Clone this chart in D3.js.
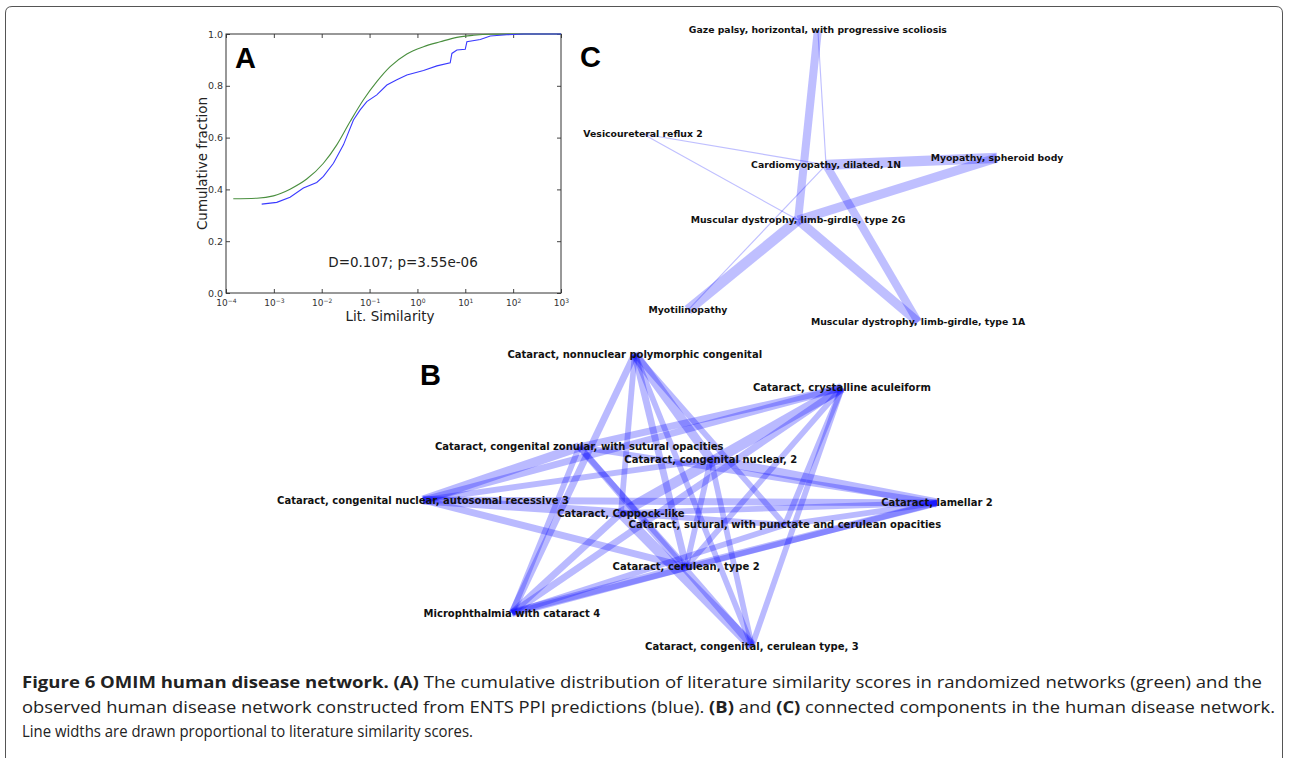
<!DOCTYPE html>
<html><head><meta charset="utf-8">
<script src="https://cdn.jsdelivr.net/npm/d3@7"></script>
<style>body{margin:0;background:#fff}svg{display:block}</style>
</head><body>
<svg id="fig" width="1289" height="758"></svg>
<script>
// ---------- Panel A data: cumulative fraction vs literature similarity ----------
const randomSim = [1.42e-4, 4.4e-4, 9.8e-4, 2.18e-3, 4.86e-3, 0.01086, 0.02065, 0.03926, 0.0745, 0.1416, 0.2692, 0.601, 1.34, 2.99, 6.68, 14.9, 33.3, 165.6, 1000];
const randomCum = [0.364, 0.366, 0.375, 0.401, 0.440, 0.501, 0.572, 0.662, 0.746, 0.816, 0.874, 0.923, 0.951, 0.970, 0.987, 0.995, 0.999, 1.0, 1.0];
const observedSim = [5.57e-4, 1.15e-3, 2.18e-3, 4.14e-3, 7.87e-3, 0.01086, 0.01758, 0.02844, 0.04603, 0.06353, 0.0875, 0.1416, 0.2296, 0.3715, 0.601, 1.34, 2.55, 4.84, 5.25, 6.68, 9.98, 10.8, 20.6, 33.3, 74.1, 165.6, 1000];
const observedCum = [0.343, 0.350, 0.370, 0.405, 0.427, 0.450, 0.501, 0.572, 0.668, 0.707, 0.739, 0.765, 0.803, 0.823, 0.842, 0.859, 0.877, 0.889, 0.925, 0.938, 0.941, 0.970, 0.979, 0.992, 0.997, 1.0, 1.0];
const yTickValues = [0, 0.2, 0.4, 0.6, 0.8, 1.0];
const xTickExponents = [-4, -3, -2, -1, 0, 1, 2, 3];
const statLabel = "D=0.107; p=3.55e-06";

// ---------- Panel B network ----------
const bNames = [
  "Cataract, nonnuclear polymorphic congenital",
  "Cataract, crystalline aculeiform",
  "Cataract, congenital zonular, with sutural opacities",
  "Cataract, congenital nuclear, 2",
  "Cataract, congenital nuclear, autosomal recessive 3",
  "Cataract, lamellar 2",
  "Cataract, Coppock-like",
  "Cataract, sutural, with punctate and cerulean opacities",
  "Cataract, cerulean, type 2",
  "Microphthalmia with cataract 4",
  "Cataract, congenital, cerulean type, 3"
];
const bLayoutX = [0.412, 0.815, 0.304, 0.560, 0.000, 1.000, 0.385, 0.704, 0.512, 0.173, 0.640];
const bLayoutY = [0.000, 0.116, 0.318, 0.361, 0.500, 0.510, 0.545, 0.585, 0.729, 0.887, 1.000];
// [source, target, literature similarity]
const bEdges = [
  [0, 9, 6], [0, 6, 5], [0, 8, 6], [0, 3, 8], [0, 10, 5], [0, 7, 5],
  [1, 2, 6], [1, 4, 6], [1, 6, 9], [1, 9, 6], [1, 7, 5], [1, 10, 5], [1, 8, 5],
  [4, 2, 8], [4, 6, 8], [4, 5, 6], [4, 8, 6], [4, 3, 5],
  [5, 3, 8], [5, 6, 5], [5, 7, 5], [5, 8, 6], [5, 9, 5], [5, 2, 5],
  [10, 6, 9], [10, 3, 5], [10, 2, 6],
  [9, 6, 6], [9, 8, 7], [9, 7, 5], [9, 2, 5],
  [2, 8, 5], [6, 7, 5], [3, 8, 5]
];

// ---------- Panel C network ----------
const cNames = [
  "Gaze palsy, horizontal, with progressive scoliosis",
  "Vesicoureteral reflux 2",
  "Cardiomyopathy, dilated, 1N",
  "Myopathy, spheroid body",
  "Muscular dystrophy, limb-girdle, type 2G",
  "Myotilinopathy",
  "Muscular dystrophy, limb-girdle, type 1A"
];
const cLayoutX = [0.494, 0.000, 0.517, 1.000, 0.438, 0.127, 0.777];
const cLayoutY = [0.000, 0.356, 0.462, 0.438, 0.651, 0.959, 1.000];
const cEdges = [
  [0, 4, 7], [0, 2, 1], [2, 3, 9], [4, 3, 8], [2, 6, 7], [4, 6, 8],
  [4, 5, 9], [2, 5, 1], [1, 2, 1], [1, 4, 1]
];

const panelLetters = ["A", "B", "C"];
const captionLines = [
  [["Figure 6 OMIM human disease network.", true], [" ", false], ["(A)", true], [" The cumulative distribution of literature similarity scores in randomized networks (green) and the", false]],
  [["observed human disease network constructed from ENTS PPI predictions (blue). ", false], ["(B)", true], [" and ", false], ["(C)", true], [" connected components in the human disease network.", false]],
  [["Line widths are drawn proportional to literature similarity scores.", false]]
];

// ================= drawing =================
(function draw() {
const svg = d3.select("#fig");

// outer frame
svg.append("path")
  .attr("d", "M5.5,760 L5.5,13 Q5.5,6.5 12,6.5 L1276,6.5 Q1282.5,6.5 1282.5,13 L1282.5,760")
  .attr("fill", "none").attr("stroke", "#555").attr("stroke-width", 1);

// ---- Panel A ----
const ax = d3.scaleLog().domain([1e-4, 1e3]).range([226, 561]);
const ay = d3.scaleLinear().domain([0, 1]).range([293, 34]);
const gA = svg.append("g").attr("font-family", "DejaVu Sans, sans-serif").attr("fill", "#222");

const tickColor = "#444";
const axLeft = gA.append("g").attr("transform", `translate(${ax.range()[0]},0)`)
  .call(d3.axisLeft(ay).tickValues(yTickValues).tickFormat(d3.format(".1f")).tickSizeInner(-4).tickSizeOuter(0).tickPadding(3));
const axRight = gA.append("g").attr("transform", `translate(${ax.range()[1]},0)`)
  .call(d3.axisRight(ay).tickValues(yTickValues).tickFormat(() => "").tickSizeInner(-4).tickSizeOuter(0));
const xTicks = xTickExponents.map(e => Math.pow(10, e));
const axBottom = gA.append("g").attr("transform", `translate(0,${ay.range()[0]})`)
  .call(d3.axisBottom(ax).tickValues(xTicks).tickFormat(() => "").tickSizeInner(-4).tickSizeOuter(0).tickPadding(3));
const axTop = gA.append("g").attr("transform", `translate(0,${ay.range()[1]})`)
  .call(d3.axisTop(ax).tickValues(xTicks).tickFormat(() => "").tickSizeInner(-4).tickSizeOuter(0));
[axLeft, axRight, axBottom, axTop].forEach(g => {
  g.select(".domain").remove();
  g.selectAll(".tick line").attr("stroke", tickColor);
});
axLeft.selectAll("text").attr("font-size", 9.5).attr("fill", "#333").attr("font-family", "DejaVu Sans, sans-serif");
axBottom.selectAll(".tick text").each(function(d) {
  const t = d3.select(this).text(null).attr("font-size", 9).attr("fill", "#333")
    .attr("font-family", "DejaVu Sans, sans-serif").attr("dy", "1.15em");
  t.append("tspan").text("10");
  t.append("tspan").text(String(Math.round(Math.log10(d))).replace("-", "\u2212"))
    .attr("font-size", 6).attr("dy", "-0.6em");
});

gA.append("rect").attr("x", ax.range()[0]).attr("y", ay.range()[1])
  .attr("width", ax.range()[1] - ax.range()[0]).attr("height", ay.range()[0] - ay.range()[1])
  .attr("fill", "none").attr("stroke", "#333").attr("stroke-width", 1);

const cdfLine = d3.line().x(d => ax(d[0])).y(d => ay(d[1]));
gA.append("path").datum(d3.zip(randomSim, randomCum)).attr("d", cdfLine.curve(d3.curveMonotoneX))
  .attr("fill", "none").attr("stroke", "#4a8f3f").attr("stroke-width", 1.1);
gA.append("path").datum(d3.zip(observedSim, observedCum)).attr("d", cdfLine.curve(d3.curveLinear))
  .attr("fill", "none").attr("stroke", "#3a3aff").attr("stroke-width", 1.1);

gA.append("text").text(statLabel).attr("x", 403).attr("y", 267)
  .attr("text-anchor", "middle").attr("font-size", 13.5).attr("fill", "#222");
gA.append("text").text("Lit. Similarity").attr("x", 390).attr("y", 321)
  .attr("text-anchor", "middle").attr("font-size", 13.5).attr("fill", "#222");
gA.append("text").text("Cumulative fraction")
  .attr("transform", `translate(207,${(ay.range()[0] + ay.range()[1]) / 2}) rotate(-90)`)
  .attr("text-anchor", "middle").attr("font-size", 13.5).attr("fill", "#222");

// ---- network drawing helper ----
const widthScale = d3.scaleLinear().domain([0, 10]).range([0, 11.5]);
function drawNetwork(names, lx, ly, edges, xs, ys, fontSize, opacity) {
  const g = svg.append("g");
  g.append("g").selectAll("line").data(edges).join("line")
    .attr("x1", d => xs(lx[d[0]])).attr("y1", d => ys(ly[d[0]]))
    .attr("x2", d => xs(lx[d[1]])).attr("y2", d => ys(ly[d[1]]))
    .attr("stroke", "#0000ff").attr("stroke-opacity", opacity)
    .attr("stroke-width", d => widthScale(d[2]));
  g.append("g").selectAll("text").data(names).join("text")
    .attr("x", (d, i) => xs(lx[i])).attr("y", (d, i) => ys(ly[i]))
    .attr("text-anchor", "middle").attr("dy", "0.35em")
    .attr("font-family", "DejaVu Sans, sans-serif").attr("font-weight", "bold")
    .attr("font-size", fontSize).attr("fill", "#111").text(d => d);
}
drawNetwork(bNames, bLayoutX, bLayoutY, bEdges,
  d3.scaleLinear().domain([0, 1]).range([423, 937]),
  d3.scaleLinear().domain([0, 1]).range([354, 646]), 10, 0.27);
drawNetwork(cNames, cLayoutX, cLayoutY, cEdges,
  d3.scaleLinear().domain([0, 1]).range([643, 997]),
  d3.scaleLinear().domain([0, 1]).range([30, 322]), 9.3, 0.25);

// panel letters
const letterPos = [[235, 68], [420, 385], [580, 67]];
svg.selectAll("text.letter").data(panelLetters).join("text").attr("class", "letter")
  .attr("x", (d, i) => letterPos[i][0]).attr("y", (d, i) => letterPos[i][1])
  .attr("font-family", "Liberation Sans, Arial, sans-serif").attr("font-weight", "bold")
  .attr("font-size", 29).attr("fill", "#000").text(d => d);

// caption
const capWidths = [1240, 1253, 451];
captionLines.forEach((line, i) => {
  const t = svg.append("text").attr("x", 22).attr("y", 688 + i * 24.5)
    .attr("font-family", "Open Sans, sans-serif").attr("font-size", 16.5).attr("fill", "#222")
    .attr("textLength", capWidths[i]).attr("lengthAdjust", "spacingAndGlyphs")
    .attr("xml:space", "preserve");
  line.forEach(([s, b]) => t.append("tspan").text(s).attr("font-weight", b ? "bold" : "normal"));
});
})();
</script>
</body></html>
